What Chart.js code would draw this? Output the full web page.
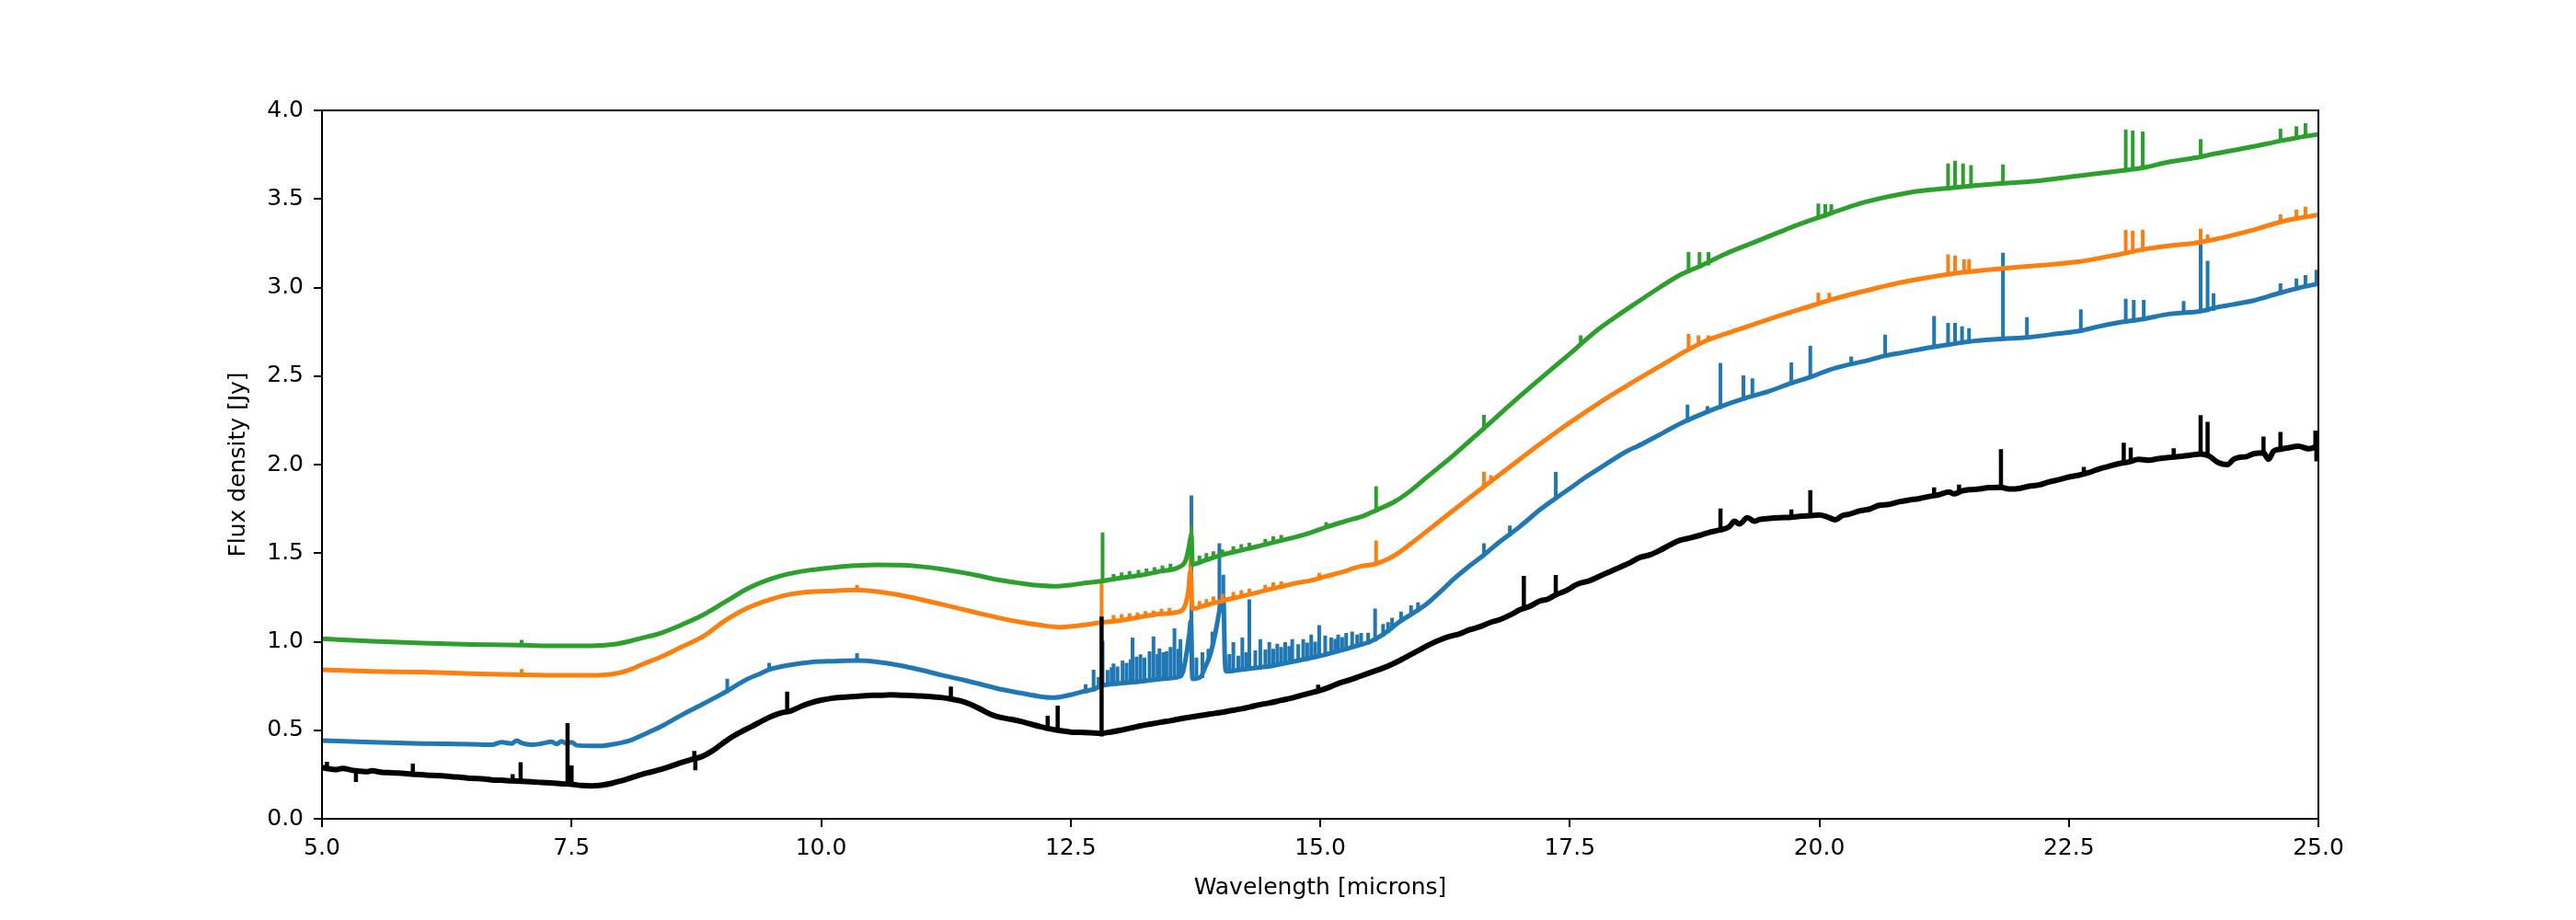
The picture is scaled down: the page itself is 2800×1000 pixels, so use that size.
<!DOCTYPE html>
<html>
<head>
<meta charset="utf-8">
<script src="https://cdn.jsdelivr.net/npm/chart.js@4.4.1/dist/chart.umd.min.js"></script>
<style>
  html, body { margin: 0; padding: 0; background: #ffffff; }
  canvas { display: block; }
</style>
</head>
<body>
<canvas id="spectra" width="2800" height="1000"></canvas>
<script>
// continuum: [wavelength (microns), flux density (Jy)]
// lines: [wavelength, flux at foot, flux at tip]

const blackCont = [
  [5.00, 0.290], [5.04, 0.285], [5.15, 0.278], [5.20, 0.284], [5.33, 0.272], [5.45, 0.266], [5.50, 0.271],
  [5.60, 0.262], [5.70, 0.260], [5.80, 0.257], [5.90, 0.252], [6.00, 0.249], [6.10, 0.245], [6.20, 0.243],
  [6.30, 0.238], [6.40, 0.234], [6.50, 0.228], [6.60, 0.226], [6.70, 0.220], [6.80, 0.218], [6.90, 0.214],
  [7.00, 0.212], [7.10, 0.209], [7.20, 0.205], [7.30, 0.203], [7.40, 0.198], [7.50, 0.195], [7.60, 0.188],
  [7.70, 0.186], [7.80, 0.190], [7.90, 0.200], [8.00, 0.215], [8.10, 0.232], [8.20, 0.250], [8.30, 0.265],
  [8.40, 0.280], [8.50, 0.298], [8.60, 0.318], [8.70, 0.335], [8.80, 0.350], [8.90, 0.380], [9.00, 0.420],
  [9.10, 0.460], [9.20, 0.492], [9.30, 0.520], [9.40, 0.550], [9.50, 0.578], [9.60, 0.598], [9.70, 0.610],
  [9.80, 0.635], [9.90, 0.655], [10.00, 0.670], [10.10, 0.680], [10.20, 0.686], [10.30, 0.690], [10.40, 0.693],
  [10.50, 0.698], [10.60, 0.697], [10.70, 0.700], [10.80, 0.698], [10.90, 0.696], [11.00, 0.693], [11.10, 0.690],
  [11.20, 0.685], [11.30, 0.677], [11.40, 0.665], [11.50, 0.645], [11.60, 0.618], [11.70, 0.590], [11.80, 0.572],
  [11.90, 0.562], [12.00, 0.550], [12.10, 0.535], [12.20, 0.520], [12.30, 0.507], [12.40, 0.497], [12.50, 0.490],
  [12.60, 0.488], [12.70, 0.486], [12.80, 0.483], [12.90, 0.490], [13.00, 0.500], [13.10, 0.512], [13.20, 0.525],
  [13.30, 0.535], [13.40, 0.545], [13.50, 0.554], [13.60, 0.565], [13.70, 0.574], [13.80, 0.583], [13.90, 0.592],
  [14.00, 0.600], [14.10, 0.610], [14.20, 0.620], [14.30, 0.632], [14.40, 0.645], [14.50, 0.655], [14.60, 0.668],
  [14.70, 0.680], [14.80, 0.695], [14.90, 0.710], [15.00, 0.725], [15.10, 0.745], [15.20, 0.768], [15.30, 0.785],
  [15.40, 0.805], [15.50, 0.825], [15.60, 0.845], [15.70, 0.868], [15.80, 0.895], [15.90, 0.925], [16.00, 0.955],
  [16.10, 0.985], [16.20, 1.010], [16.30, 1.030], [16.40, 1.045], [16.50, 1.068], [16.60, 1.085], [16.70, 1.108],
  [16.80, 1.125], [16.90, 1.150], [17.00, 1.180], [17.10, 1.200], [17.20, 1.230], [17.28, 1.240], [17.36, 1.265],
  [17.45, 1.285], [17.50, 1.300], [17.55, 1.318], [17.60, 1.330], [17.70, 1.345], [17.80, 1.370], [17.90, 1.395],
  [18.00, 1.420], [18.10, 1.445], [18.20, 1.475], [18.30, 1.490], [18.40, 1.515], [18.50, 1.545], [18.60, 1.572],
  [18.70, 1.585], [18.80, 1.600], [18.90, 1.618], [19.00, 1.630], [19.10, 1.650], [19.15, 1.680], [19.20, 1.665],
  [19.28, 1.700], [19.35, 1.680], [19.40, 1.690], [19.50, 1.696], [19.60, 1.700], [19.72, 1.703], [19.80, 1.708],
  [19.91, 1.712], [20.00, 1.715], [20.08, 1.705], [20.16, 1.688], [20.23, 1.712], [20.30, 1.720], [20.40, 1.738],
  [20.50, 1.748], [20.60, 1.770], [20.70, 1.775], [20.80, 1.790], [20.90, 1.800], [21.00, 1.808], [21.10, 1.820],
  [21.20, 1.830], [21.30, 1.845], [21.35, 1.835], [21.42, 1.850], [21.50, 1.858], [21.60, 1.862], [21.70, 1.870],
  [21.82, 1.872], [21.90, 1.862], [22.00, 1.865], [22.10, 1.878], [22.20, 1.885], [22.30, 1.902], [22.40, 1.915],
  [22.50, 1.930], [22.60, 1.940], [22.70, 1.955], [22.80, 1.975], [22.90, 1.990], [23.00, 2.005], [23.10, 2.015],
  [23.20, 2.030], [23.30, 2.025], [23.40, 2.034], [23.50, 2.040], [23.60, 2.045], [23.70, 2.052], [23.82, 2.060],
  [23.90, 2.050], [24.00, 2.010], [24.09, 2.000], [24.15, 2.030], [24.20, 2.040], [24.28, 2.045], [24.35, 2.061],
  [24.45, 2.066], [24.50, 2.030], [24.55, 2.075], [24.62, 2.087], [24.70, 2.095], [24.80, 2.104], [24.90, 2.090],
  [24.97, 2.100], [25.00, 2.113]
];
const blackLines = [
  [5.05, 0.285, 0.310], [5.34, 0.272, 0.220], [5.91, 0.251, 0.300], [6.91, 0.214, 0.240], [6.99, 0.212, 0.308],
  [7.46, 0.197, 0.528], [7.50, 0.195, 0.290], [8.73, 0.337, 0.372], [8.74, 0.337, 0.286], [9.66, 0.605, 0.706],
  [11.30, 0.677, 0.735], [12.27, 0.509, 0.570], [12.37, 0.499, 0.627], [12.81, 0.476, 1.130], [14.98, 0.722, 0.745],
  [17.04, 1.187, 1.360], [17.36, 1.265, 1.365], [19.01, 1.630, 1.740], [19.72, 1.703, 1.735], [19.91, 1.712, 1.844],
  [21.15, 1.825, 1.860], [21.40, 1.848, 1.875], [21.82, 1.872, 2.075], [22.65, 1.947, 1.975], [23.05, 2.010, 2.112],
  [23.12, 2.017, 2.085], [23.55, 2.042, 2.080], [23.82, 2.060, 2.268], [23.89, 2.051, 2.230], [24.45, 2.066, 2.147],
  [24.62, 2.087, 2.173], [24.97, 2.100, 2.180], [24.98, 2.100, 2.030]
];

const blueCont = [
  [5.00, 0.442], [5.50, 0.432], [6.00, 0.425], [6.50, 0.421], [6.70, 0.418], [6.80, 0.432], [6.90, 0.425],
  [6.95, 0.442], [7.00, 0.428], [7.10, 0.418], [7.20, 0.425], [7.30, 0.435], [7.35, 0.422], [7.40, 0.438],
  [7.45, 0.425], [7.50, 0.432], [7.55, 0.415], [7.70, 0.412], [7.80, 0.412], [7.95, 0.424], [8.10, 0.445],
  [8.20, 0.470], [8.39, 0.519], [8.60, 0.585], [8.82, 0.649], [9.00, 0.703], [9.26, 0.788], [9.40, 0.822],
  [9.48, 0.842], [9.69, 0.869], [9.90, 0.885], [10.13, 0.890], [10.36, 0.893], [10.56, 0.886], [10.80, 0.865],
  [11.00, 0.840], [11.20, 0.812], [11.43, 0.783], [11.60, 0.760], [11.80, 0.731], [12.00, 0.710], [12.20, 0.690],
  [12.33, 0.684], [12.50, 0.700], [12.60, 0.715], [12.72, 0.730], [12.82, 0.753], [13.00, 0.765], [13.20, 0.775],
  [13.40, 0.790], [13.60, 0.805], [13.63, 0.840], [13.66, 0.930], [13.69, 1.050], [13.705, 1.120], [13.72, 0.790],
  [13.80, 0.800], [13.85, 0.860], [13.90, 0.930], [13.95, 1.050], [14.00, 1.200], [14.03, 1.250], [14.045, 0.900],
  [14.06, 0.832], [14.20, 0.842], [14.40, 0.855], [14.52, 0.864], [14.60, 0.873], [14.70, 0.884], [14.80, 0.896],
  [14.90, 0.908], [15.00, 0.920], [15.10, 0.935], [15.20, 0.950], [15.30, 0.966], [15.40, 0.982], [15.50, 1.000],
  [15.60, 1.030], [15.70, 1.070], [15.80, 1.115], [15.90, 1.150], [16.06, 1.210], [16.20, 1.280], [16.33, 1.350],
  [16.50, 1.430], [16.64, 1.490], [16.80, 1.565], [16.90, 1.607], [17.00, 1.650], [17.21, 1.749], [17.36, 1.810],
  [17.50, 1.865], [17.64, 1.922], [17.80, 1.980], [18.08, 2.078], [18.18, 2.104], [18.37, 2.160], [18.62, 2.235],
  [18.80, 2.280], [19.00, 2.325], [19.24, 2.372], [19.50, 2.415], [19.72, 2.460], [19.91, 2.494], [20.10, 2.535],
  [20.32, 2.568], [20.50, 2.590], [20.66, 2.615], [20.83, 2.632], [21.00, 2.650], [21.15, 2.665], [21.30, 2.678],
  [21.55, 2.698], [21.84, 2.710], [22.08, 2.718], [22.40, 2.740], [22.62, 2.756], [22.80, 2.780], [23.03, 2.805],
  [23.25, 2.822], [23.50, 2.850], [23.82, 2.866], [24.00, 2.890], [24.35, 2.926], [24.62, 2.970], [24.80, 2.997],
  [25.00, 3.022]
];
const blueLines = [
  [9.06, 0.720, 0.780], [9.48, 0.842, 0.870], [10.36, 0.893, 0.925], [12.65, 0.720, 0.750], [12.73, 0.730, 0.831],
  [12.78, 0.742, 0.790], [12.82, 0.753, 0.995], [12.87, 0.757, 0.830], [12.91, 0.759, 0.845], [12.93, 0.760, 0.866],
  [12.97, 0.763, 0.850], [13.02, 0.766, 0.883], [13.06, 0.768, 0.870], [13.10, 0.770, 0.890], [13.12, 0.771, 1.013],
  [13.16, 0.773, 0.905], [13.20, 0.775, 0.918], [13.24, 0.778, 0.900], [13.29, 0.780, 0.935], [13.33, 0.783, 1.020],
  [13.37, 0.786, 0.920], [13.39, 0.788, 0.952], [13.43, 0.792, 0.930], [13.46, 0.794, 0.935], [13.50, 0.797, 0.960],
  [13.54, 0.800, 1.065], [13.58, 0.803, 0.950], [13.60, 0.805, 1.004], [13.71, 0.850, 1.815], [13.76, 0.796, 0.900],
  [13.82, 0.805, 0.930], [13.88, 0.900, 0.950], [13.92, 0.990, 1.047], [13.99, 1.180, 1.545], [14.03, 1.240, 1.367],
  [14.09, 0.835, 0.920], [14.13, 0.838, 0.987], [14.18, 0.841, 0.910], [14.22, 0.843, 1.013], [14.26, 0.846, 0.930],
  [14.29, 0.848, 1.229], [14.35, 0.852, 0.940], [14.40, 0.855, 1.004], [14.45, 0.858, 0.945], [14.49, 0.861, 0.987],
  [14.53, 0.865, 0.950], [14.57, 0.869, 0.978], [14.61, 0.874, 0.960], [14.65, 0.879, 0.987], [14.69, 0.883, 0.965],
  [14.72, 0.887, 1.004], [14.78, 0.893, 0.975], [14.83, 0.899, 1.004], [14.87, 0.903, 0.985], [14.91, 0.909, 1.030],
  [14.95, 0.913, 0.990], [14.99, 0.919, 1.083], [15.05, 0.927, 1.025], [15.11, 0.936, 1.013], [15.15, 0.941, 1.005],
  [15.18, 0.946, 1.030], [15.22, 0.952, 1.015], [15.26, 0.959, 1.039], [15.32, 0.969, 1.047], [15.37, 0.976, 1.030],
  [15.41, 0.984, 1.039], [15.48, 0.995, 1.040], [15.55, 1.012, 1.177], [15.63, 1.039, 1.090], [15.68, 1.058, 1.100],
  [15.72, 1.078, 1.125], [15.81, 1.120, 1.160], [15.91, 1.154, 1.195], [15.98, 1.178, 1.212], [16.64, 1.490, 1.545],
  [16.90, 1.607, 1.645], [17.36, 1.810, 1.948], [18.68, 2.250, 2.329], [18.88, 2.298, 2.320], [19.01, 2.325, 2.563],
  [19.24, 2.372, 2.494], [19.33, 2.390, 2.477], [19.72, 2.460, 2.566], [19.91, 2.494, 2.661], [20.32, 2.568, 2.600],
  [20.66, 2.615, 2.723], [21.15, 2.665, 2.829], [21.29, 2.677, 2.790], [21.36, 2.683, 2.790], [21.43, 2.688, 2.770],
  [21.50, 2.694, 2.760], [21.84, 2.710, 3.186], [22.08, 2.718, 2.822], [22.62, 2.756, 2.866], [23.07, 2.807, 2.926],
  [23.15, 2.813, 2.920], [23.25, 2.822, 2.920], [23.65, 2.858, 2.913], [23.82, 2.866, 3.259], [23.89, 2.872, 3.140],
  [23.95, 2.879, 2.957], [24.62, 2.970, 3.013], [24.78, 2.995, 3.040], [24.87, 3.008, 3.060], [24.98, 3.020, 3.090]
];

const orangeCont = [
  [5.00, 0.842], [5.50, 0.832], [6.00, 0.828], [6.50, 0.820], [7.00, 0.813], [7.40, 0.810], [7.69, 0.810],
  [7.95, 0.821], [8.10, 0.845], [8.20, 0.870], [8.39, 0.913], [8.60, 0.970], [8.82, 1.030], [9.04, 1.120],
  [9.26, 1.190], [9.50, 1.240], [9.69, 1.268], [9.90, 1.282], [10.13, 1.287], [10.35, 1.292], [10.56, 1.283],
  [10.80, 1.262], [11.00, 1.238], [11.20, 1.212], [11.43, 1.181], [11.60, 1.158], [11.80, 1.132], [12.00, 1.110],
  [12.20, 1.093], [12.41, 1.082], [12.60, 1.092], [12.80, 1.108], [13.00, 1.120], [13.20, 1.140], [13.40, 1.157],
  [13.60, 1.172], [13.65, 1.210], [13.68, 1.290], [13.70, 1.400], [13.72, 1.186], [13.85, 1.205], [14.00, 1.228],
  [14.20, 1.255], [14.35, 1.275], [14.52, 1.299], [14.75, 1.330], [14.90, 1.345], [15.05, 1.368], [15.20, 1.390],
  [15.40, 1.425], [15.56, 1.440], [15.75, 1.489], [15.90, 1.550], [16.06, 1.620], [16.33, 1.740], [16.64, 1.875],
  [16.99, 2.026], [17.20, 2.115], [17.42, 2.205], [17.64, 2.290], [17.86, 2.372], [18.10, 2.455], [18.37, 2.545],
  [18.50, 2.588], [18.69, 2.650], [18.89, 2.705], [19.06, 2.738], [19.50, 2.822], [19.94, 2.900], [20.10, 2.928],
  [20.38, 2.970], [20.83, 3.030], [21.27, 3.073], [21.50, 3.090], [21.84, 3.108], [22.15, 3.122], [22.59, 3.145],
  [23.03, 3.190], [23.25, 3.215], [23.50, 3.235], [23.82, 3.256], [24.35, 3.325], [24.62, 3.370], [24.80, 3.392],
  [25.00, 3.410]
];
const orangeLines = [
  [7.00, 0.813, 0.835], [10.36, 1.292, 1.310], [12.81, 1.108, 1.342], [12.93, 1.117, 1.140], [13.01, 1.121, 1.145],
  [13.09, 1.128, 1.150], [13.17, 1.136, 1.155], [13.25, 1.143, 1.162], [13.33, 1.150, 1.165], [13.41, 1.157, 1.175],
  [13.49, 1.163, 1.180], [13.70, 1.400, 1.600], [13.79, 1.196, 1.220], [13.86, 1.206, 1.230], [13.93, 1.218, 1.245],
  [14.02, 1.230, 1.260], [14.13, 1.245, 1.270], [14.21, 1.256, 1.280], [14.29, 1.268, 1.290], [14.45, 1.289, 1.310],
  [14.53, 1.300, 1.325], [14.61, 1.311, 1.330], [14.99, 1.357, 1.378], [15.56, 1.440, 1.561], [16.64, 1.875, 1.950],
  [16.71, 1.905, 1.930], [18.69, 2.650, 2.727], [18.79, 2.680, 2.720], [18.89, 2.705, 2.720], [19.99, 2.908, 2.960],
  [20.10, 2.928, 2.960], [21.29, 3.075, 3.177], [21.36, 3.080, 3.170], [21.45, 3.086, 3.150], [21.50, 3.090, 3.150],
  [23.07, 3.195, 3.316], [23.14, 3.202, 3.310], [23.24, 3.214, 3.316], [23.82, 3.256, 3.321], [23.89, 3.262, 3.290],
  [24.62, 3.370, 3.403], [24.78, 3.390, 3.430], [24.87, 3.400, 3.446]
];

const greenCont = [
  [5.00, 1.017], [5.50, 1.003], [6.00, 0.992], [6.50, 0.985], [7.00, 0.980], [7.40, 0.976], [7.69, 0.976],
  [7.95, 0.987], [8.10, 1.005], [8.20, 1.020], [8.39, 1.048], [8.60, 1.095], [8.82, 1.152], [9.04, 1.225],
  [9.26, 1.299], [9.50, 1.355], [9.69, 1.385], [9.90, 1.405], [10.13, 1.420], [10.35, 1.430], [10.56, 1.434],
  [10.80, 1.432], [11.00, 1.424], [11.20, 1.410], [11.43, 1.389], [11.60, 1.370], [11.80, 1.347], [12.00, 1.330],
  [12.15, 1.319], [12.33, 1.313], [12.50, 1.320], [12.65, 1.332], [12.82, 1.343], [13.00, 1.360], [13.20, 1.375],
  [13.40, 1.398], [13.60, 1.425], [13.65, 1.455], [13.68, 1.520], [13.71, 1.600], [13.72, 1.437], [13.85, 1.460],
  [14.00, 1.488], [14.20, 1.515], [14.35, 1.535], [14.52, 1.559], [14.75, 1.590], [14.90, 1.615], [15.05, 1.645],
  [15.25, 1.680], [15.45, 1.714], [15.56, 1.742], [15.75, 1.792], [15.90, 1.850], [16.06, 1.925], [16.33, 2.050],
  [16.64, 2.205], [16.99, 2.381], [17.33, 2.545], [17.50, 2.625], [17.61, 2.680], [17.80, 2.770], [18.00, 2.850],
  [18.18, 2.918], [18.40, 3.000], [18.62, 3.075], [18.80, 3.120], [19.06, 3.190], [19.30, 3.245], [19.50, 3.290],
  [19.72, 3.340], [19.94, 3.385], [20.12, 3.420], [20.38, 3.470], [20.60, 3.502], [20.83, 3.529], [21.05, 3.548],
  [21.28, 3.560], [21.55, 3.575], [21.84, 3.588], [22.15, 3.600], [22.59, 3.630], [23.03, 3.660], [23.25, 3.677],
  [23.47, 3.705], [23.82, 3.738], [23.91, 3.749], [24.35, 3.796], [24.62, 3.828], [24.80, 3.847], [25.00, 3.865]
];
const greenLines = [
  [7.00, 0.980, 1.000], [12.82, 1.343, 1.607], [12.93, 1.352, 1.372], [13.01, 1.361, 1.380], [13.09, 1.366, 1.388],
  [13.18, 1.373, 1.395], [13.26, 1.383, 1.402], [13.34, 1.391, 1.410], [13.42, 1.401, 1.420], [13.50, 1.411, 1.430],
  [13.71, 1.600, 1.645], [13.79, 1.450, 1.475], [13.86, 1.461, 1.490], [13.93, 1.476, 1.500], [14.02, 1.489, 1.510],
  [14.13, 1.505, 1.528], [14.21, 1.516, 1.540], [14.29, 1.528, 1.548], [14.45, 1.549, 1.570], [14.53, 1.560, 1.585],
  [14.61, 1.571, 1.592], [15.06, 1.647, 1.665], [15.56, 1.742, 1.867], [16.64, 2.205, 2.270], [17.61, 2.680, 2.720],
  [18.69, 3.092, 3.190], [18.80, 3.120, 3.190], [18.89, 3.135, 3.190], [19.99, 3.395, 3.463], [20.06, 3.405, 3.460],
  [20.12, 3.420, 3.460], [21.29, 3.561, 3.690], [21.36, 3.564, 3.705], [21.44, 3.569, 3.690], [21.52, 3.573, 3.680],
  [21.84, 3.588, 3.685], [23.07, 3.664, 3.882], [23.14, 3.669, 3.875], [23.24, 3.676, 3.870], [23.82, 3.738, 3.827],
  [24.62, 3.828, 3.887], [24.78, 3.846, 3.900], [24.87, 3.857, 3.917]
];

const xTicks = [5.0, 7.5, 10.0, 12.5, 15.0, 17.5, 20.0, 22.5, 25.0];
const yTicks = [0.0, 0.5, 1.0, 1.5, 2.0, 2.5, 3.0, 3.5, 4.0];

const FONT = { family: "'DejaVu Sans', sans-serif", size: 25 };

// top and right spines
const frameBox = {
  id: 'frameBox',
  afterDraw(chart) {
    const { ctx, chartArea: a } = chart;
    ctx.save();
    ctx.strokeStyle = '#000000';
    ctx.lineWidth = 2;
    ctx.strokeRect(a.left, a.top, a.right - a.left, a.bottom - a.top);
    ctx.restore();
  }
};

function continuum(label, points, color, width, order) {
  return {
    label: label,
    data: points.map(p => ({ x: p[0], y: p[1] })),
    borderColor: color,
    backgroundColor: color,
    borderWidth: width,
    borderJoinStyle: 'round',
    borderCapStyle: 'round',
    pointRadius: 0,
    cubicInterpolationMode: 'monotone',
    fill: false,
    order: order
  };
}

// each emission line is a vertical stroke; null breaks the path between lines
function lines(label, list, color, width, order) {
  return {
    label: label,
    data: list.flatMap(l => [{ x: l[0], y: l[1] }, { x: l[0], y: l[2] }, { x: l[0], y: null }]),
    borderColor: color,
    backgroundColor: color,
    borderWidth: width,
    borderCapStyle: 'square',
    pointRadius: 0,
    tension: 0,
    spanGaps: false,
    fill: false,
    order: order
  };
}

new Chart(document.getElementById('spectra'), {
  type: 'line',
  data: {
    datasets: [
      continuum('data', blackCont, '#000000', 6, 0),
      lines('data lines', blackLines, '#000000', 4.5, 0),
      continuum('model 3', greenCont, '#2ca02c', 5, 1),
      lines('model 3 lines', greenLines, '#2ca02c', 4, 1),
      continuum('model 2', orangeCont, '#ff7f0e', 5, 2),
      lines('model 2 lines', orangeLines, '#ff7f0e', 4, 2),
      continuum('model 1', blueCont, '#1f77b4', 5, 3),
      lines('model 1 lines', blueLines, '#1f77b4', 4, 3)
    ]
  },
  options: {
    responsive: false,
    animation: false,
    devicePixelRatio: 1,
    layout: { padding: { left: 244, right: 280, top: 120, bottom: 20 } },
    plugins: {
      legend: { display: false },
      tooltip: { enabled: false }
    },
    scales: {
      x: {
        type: 'linear',
        min: 5,
        max: 25,
        afterBuildTicks: (axis) => { axis.ticks = xTicks.map(v => ({ value: v })); },
        afterFit: (axis) => { axis.height = 90; },
        ticks: {
          color: '#000000',
          font: FONT,
          padding: 8,
          maxRotation: 0,
          callback: (v) => Number(v).toFixed(1)
        },
        grid: { drawOnChartArea: false, drawTicks: true, tickLength: 9, lineWidth: 2, color: '#000000' },
        border: { display: true, color: '#000000', width: 2 },
        title: { display: true, text: 'Wavelength [microns]', color: '#000000', font: FONT, padding: 0 }
      },
      y: {
        type: 'linear',
        min: 0,
        max: 4,
        afterBuildTicks: (axis) => { axis.ticks = yTicks.map(v => ({ value: v })); },
        afterFit: (axis) => { axis.width = 106; },
        ticks: {
          color: '#000000',
          font: FONT,
          padding: 11,
          callback: (v) => Number(v).toFixed(1)
        },
        grid: { drawOnChartArea: false, drawTicks: true, tickLength: 9, lineWidth: 2, color: '#000000' },
        border: { display: true, color: '#000000', width: 2 },
        title: { display: true, text: 'Flux density [Jy]', color: '#000000', font: FONT, padding: 0 }
      }
    }
  },
  plugins: [frameBox]
});
</script>
</body>
</html>
